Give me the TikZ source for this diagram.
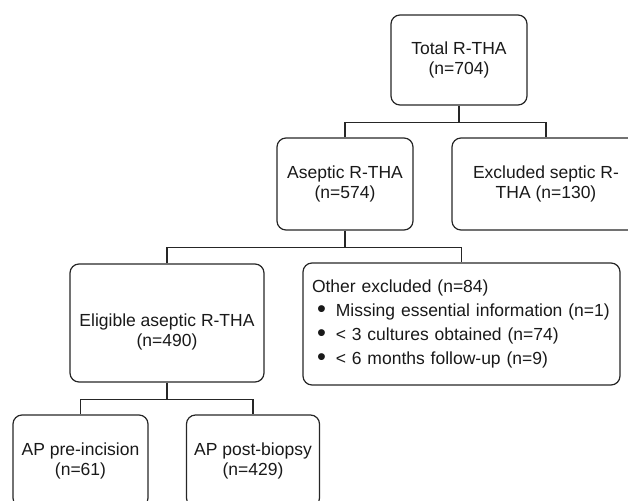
\documentclass[tikz,border=0pt]{standalone}
\usepackage{fontspec}
\setmainfont{Liberation Sans}
\usetikzlibrary{positioning}
\newcommand{\bigdot}{\hspace*{5pt}\raisebox{-1.2pt}{\scalebox{1.45}{\textbullet}}\hspace{10pt}}

\begin{document}
\begin{tikzpicture}[x=1pt,y=-1pt,
  box/.style={draw=black!85,line width=1.2pt,rounded corners=9pt,align=center,inner sep=0pt,
    font=\fontsize{17.5}{20}\selectfont,text=black!90},
  txt/.style={align=center,inner sep=0pt,font=\fontsize{17.5}{20}\selectfont,text=black!90},
  link/.style={draw=black!85,line width=1.4pt},
  stem/.style={link,line width=2.2pt}]
  \useasboundingbox (0,0) rectangle (628,500);
  \node[box,minimum width=136pt,minimum height=90pt] (total) at (459,60) {Total R-THA\\(n=704)};
  \node[box,minimum width=136pt,minimum height=92pt] (aseptic) at (345,184) {Aseptic R-THA\\(n=574)};
  \node[box,minimum width=188pt,minimum height=92pt] (excl) at (546,184) {Excluded septic R-\\THA (n=130)};
  \node[box,minimum width=194pt,minimum height=118pt] (elig) at (167,323) {};
  \node[txt] (eligtxt) at (167,332) {Eligible aseptic R-THA\\(n=490)};
  \node[box,minimum width=317pt,minimum height=122pt,align=left,text width=299pt,
    font=\fontsize{17.5}{24}\selectfont] (other) at (461.5,324)
    {Other excluded (n=84)\\
     \bigdot Missing essential information (n=1)\\
     \bigdot < 3 cultures obtained (n=74)\\
     \bigdot < 6 months follow-up (n=9)};
  \node[box,minimum width=135pt,minimum height=92pt] (pre) at (80.5,461) {AP pre-incision\\(n=61)};
  \node[box,minimum width=133pt,minimum height=92pt] (post) at (253,461) {AP post-biopsy\\(n=429)};

  \coordinate (j1) at ([yshift=-17pt]total.south);
  \coordinate (j2) at ([yshift=-17pt]aseptic.south);
  \coordinate (j3) at ([yshift=-17pt]elig.south);
  \foreach \a/\j in {total/j1,aseptic/j2,elig/j3}
    \draw[stem] (\a.south) -- (\j);
  \foreach \j/\l/\r in {j1/aseptic/excl,j2/elig/other,j3/pre/post}
    \draw[link] (\l.north) |- (\j) -| (\r.north);
\end{tikzpicture}
\end{document}
